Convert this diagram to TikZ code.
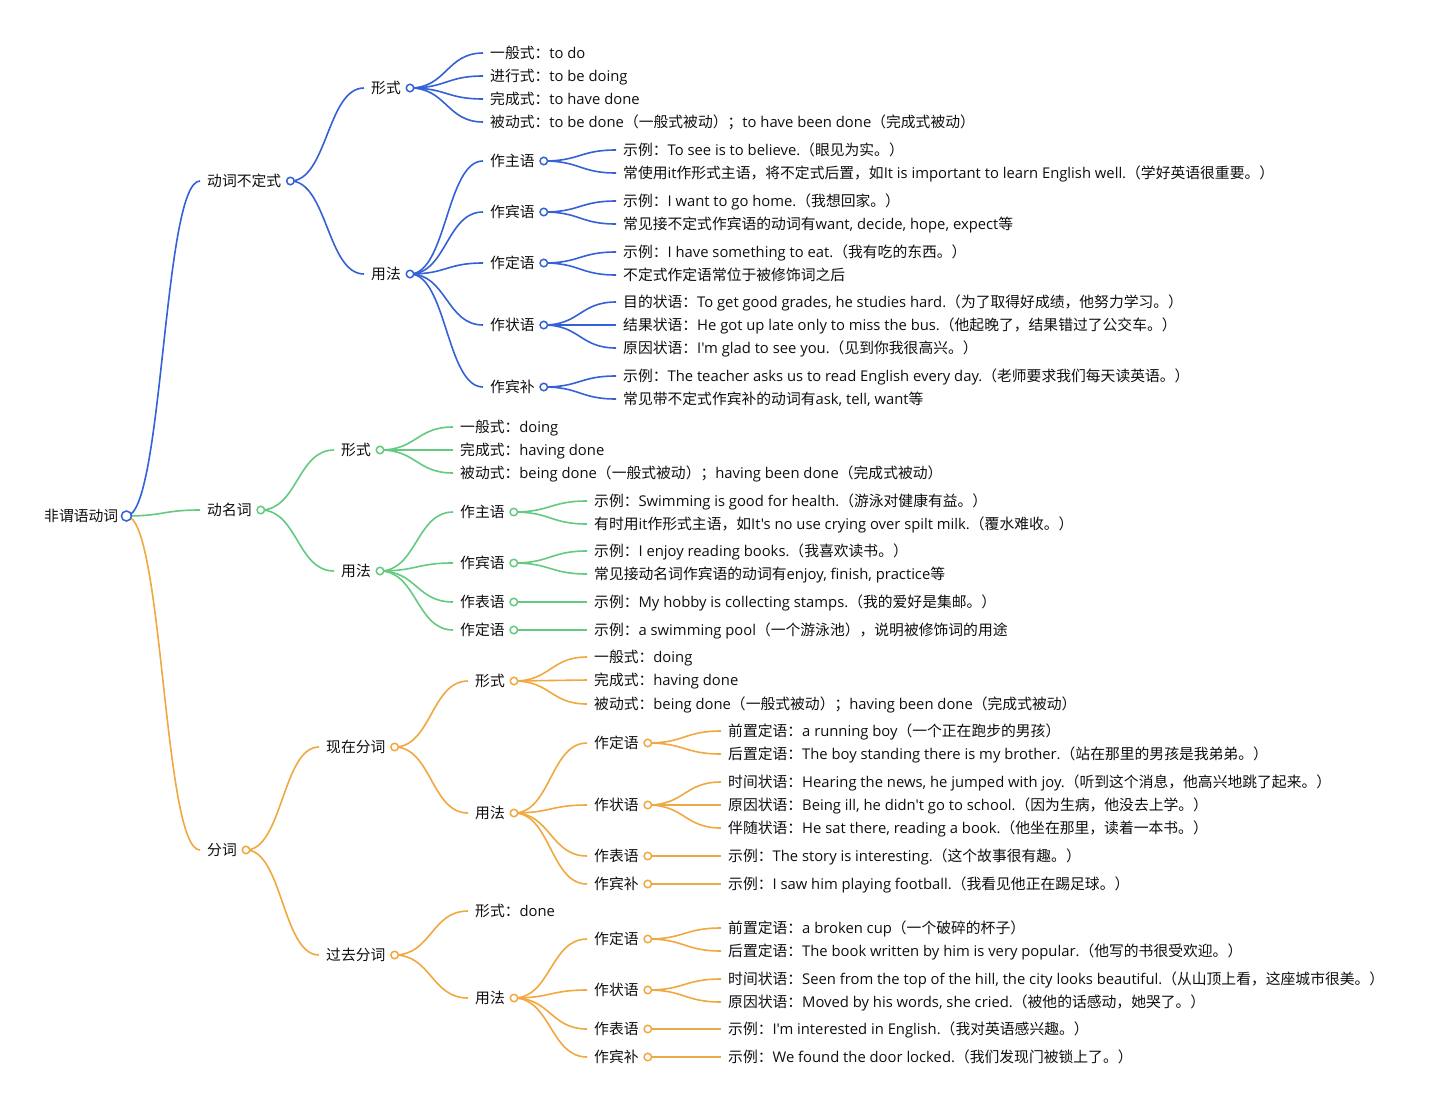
\documentclass[tikz,border=0pt]{standalone}
\usepackage{fontspec}
\setmainfont{Open Sans}
\newfontfamily\latf{Open Sans}
\newfontfamily\cjkf{Noto Sans CJK SC}
\usetikzlibrary{calc}
\pgfdeclarelayer{bg}
\pgfsetlayers{bg,main}
\XeTeXinterchartokenstate=1
\chardef\cjkcls=10
\newcount\cjkc
\def\setcls#1#2{\cjkc=#1\relax\loop\XeTeXcharclass\cjkc=\cjkcls\relax\ifnum\cjkc<#2\relax\advance\cjkc by 1\repeat}
\setcls{"3000}{"303F}
\setcls{"4E00}{"9FFF}
\setcls{"FF00}{"FFEF}
\XeTeXinterchartoks 0 \cjkcls = {\cjkf}
\XeTeXinterchartoks 4095 \cjkcls = {\cjkf}
\XeTeXinterchartoks \cjkcls 0 = {\latf}
\XeTeXinterchartoks \cjkcls 4095 = {\latf}
\definecolor{cb}{RGB}{52,98,214}
\definecolor{cg}{RGB}{100,202,128}
\definecolor{co}{RGB}{240,168,64}
\definecolor{tx}{RGB}{15,15,15}
\tikzset{
  txt/.style={anchor=west,inner sep=0pt,text height=13pt,text depth=2pt,text=tx},
  dot/.style={circle,draw,fill=white,line width=1.5pt,inner sep=0pt,minimum size=7.5pt},
  link/.style={line width=1.6pt}
}
\newcommand\nd[4]{\node[txt] (#1) at (#2,#3) {#4};\coordinate (#1-in) at (#2-7,#3);}
\newcommand\lk[3]{\begin{pgfonlayer}{bg}\draw[link,#1] let \p1=(#2), \p2=(#3) in (\p1) .. controls ({(\x1+\x2)/2},\y1) and ({(\x1+\x2)/2},\y2) .. (\p2);\end{pgfonlayer}}
\newcommand\leaf[6]{\nd{#1}{#2}{#3}{#4}\lk{#6}{#5-c.center}{#1-in}}
\newcommand\inn[6]{\nd{#1}{#2}{#3}{#4}\node[dot,draw=#6] (#1-c) at ([xshift=9pt]#1.east) {};\lk{#6}{#5-c.center}{#1-in}}
\begin{document}
\begin{tikzpicture}[x=1pt,y=-1pt,font=\fontsize{14.8}{17}\selectfont]
\begin{pgfonlayer}{bg}
\fill[white] (0,0) rectangle (1440,1098);
\end{pgfonlayer}
\useasboundingbox (0,0) rectangle (1440,1098);
% root
\node[txt] (r) at (44,516) {非谓语动词};
\node[dot,draw=cb,minimum size=10pt] (r-c) at ([xshift=8pt]r.east) {};
% ===== 动词不定式 =====
\inn{A}{207}{181}{动词不定式}{r}{cb}
\inn{Af}{371}{88}{形式}{A}{cb}
\leaf{Af1}{490}{53}{一般式：to do}{Af}{cb}
\leaf{Af2}{490}{76}{进行式：to be doing}{Af}{cb}
\leaf{Af3}{490}{99}{完成式：to have done}{Af}{cb}
\leaf{Af4}{490}{122}{被动式：to be done（一般式被动）；to have been done（完成式被动）}{Af}{cb}
\inn{Au}{371}{274}{用法}{A}{cb}
\inn{Au1}{490}{161}{作主语}{Au}{cb}
\leaf{Au1a}{623}{150}{示例：To see is to believe.（眼见为实。）}{Au1}{cb}
\leaf{Au1b}{623}{173}{常使用it作形式主语，将不定式后置，如It is important to learn English well.（学好英语很重要。）}{Au1}{cb}
\inn{Au2}{490}{212}{作宾语}{Au}{cb}
\leaf{Au2a}{623}{201}{示例：I want to go home.（我想回家。）}{Au2}{cb}
\leaf{Au2b}{623}{224}{常见接不定式作宾语的动词有want, decide, hope, expect等}{Au2}{cb}
\inn{Au3}{490}{263}{作定语}{Au}{cb}
\leaf{Au3a}{623}{252}{示例：I have something to eat.（我有吃的东西。）}{Au3}{cb}
\leaf{Au3b}{623}{275}{不定式作定语常位于被修饰词之后}{Au3}{cb}
\inn{Au4}{490}{325}{作状语}{Au}{cb}
\leaf{Au4a}{623}{302}{目的状语：To get good grades, he studies hard.（为了取得好成绩，他努力学习。）}{Au4}{cb}
\leaf{Au4b}{623}{325}{结果状语：He got up late only to miss the bus.（他起晚了，结果错过了公交车。）}{Au4}{cb}
\leaf{Au4c}{623}{348}{原因状语：I'm glad to see you.（见到你我很高兴。）}{Au4}{cb}
\inn{Au5}{490}{387}{作宾补}{Au}{cb}
\leaf{Au5a}{623}{376}{示例：The teacher asks us to read English every day.（老师要求我们每天读英语。）}{Au5}{cb}
\leaf{Au5b}{623}{399}{常见带不定式作宾补的动词有ask, tell, want等}{Au5}{cb}
% ===== 动名词 =====
\inn{B}{207}{510}{动名词}{r}{cg}
\inn{Bf}{341}{450}{形式}{B}{cg}
\leaf{Bf1}{460}{427}{一般式：doing}{Bf}{cg}
\leaf{Bf2}{460}{450}{完成式：having done}{Bf}{cg}
\leaf{Bf3}{460}{473}{被动式：being done（一般式被动）；having been done（完成式被动）}{Bf}{cg}
\inn{Bu}{341}{571}{用法}{B}{cg}
\inn{Bu1}{460}{512}{作主语}{Bu}{cg}
\leaf{Bu1a}{594}{501}{示例：Swimming is good for health.（游泳对健康有益。）}{Bu1}{cg}
\leaf{Bu1b}{594}{524}{有时用it作形式主语，如It's no use crying over spilt milk.（覆水难收。）}{Bu1}{cg}
\inn{Bu2}{460}{563}{作宾语}{Bu}{cg}
\leaf{Bu2a}{594}{551}{示例：I enjoy reading books.（我喜欢读书。）}{Bu2}{cg}
\leaf{Bu2b}{594}{574}{常见接动名词作宾语的动词有enjoy, finish, practice等}{Bu2}{cg}
\inn{Bu3}{460}{602}{作表语}{Bu}{cg}
\leaf{Bu3a}{594}{602}{示例：My hobby is collecting stamps.（我的爱好是集邮。）}{Bu3}{cg}
\inn{Bu4}{460}{630}{作定语}{Bu}{cg}
\leaf{Bu4a}{594}{630}{示例：a swimming pool（一个游泳池），说明被修饰词的用途}{Bu4}{cg}
% ===== 分词 =====
\inn{C}{207}{850}{分词}{r}{co}
\inn{P}{326}{747}{现在分词}{C}{co}
\inn{Pf}{475}{681}{形式}{P}{co}
\leaf{Pf1}{594}{657}{一般式：doing}{Pf}{co}
\leaf{Pf2}{594}{680}{完成式：having done}{Pf}{co}
\leaf{Pf3}{594}{704}{被动式：being done（一般式被动）；having been done（完成式被动）}{Pf}{co}
\inn{Pu}{475}{813}{用法}{P}{co}
\inn{Pu1}{594}{743}{作定语}{Pu}{co}
\leaf{Pu1a}{728}{731}{前置定语：a running boy（一个正在跑步的男孩）}{Pu1}{co}
\leaf{Pu1b}{728}{754}{后置定语：The boy standing there is my brother.（站在那里的男孩是我弟弟。）}{Pu1}{co}
\inn{Pu2}{594}{805}{作状语}{Pu}{co}
\leaf{Pu2a}{728}{782}{时间状语：Hearing the news, he jumped with joy.（听到这个消息，他高兴地跳了起来。）}{Pu2}{co}
\leaf{Pu2b}{728}{805}{原因状语：Being ill, he didn't go to school.（因为生病，他没去上学。）}{Pu2}{co}
\leaf{Pu2c}{728}{828}{伴随状语：He sat there, reading a book.（他坐在那里，读着一本书。）}{Pu2}{co}
\inn{Pu3}{594}{856}{作表语}{Pu}{co}
\leaf{Pu3a}{728}{856}{示例：The story is interesting.（这个故事很有趣。）}{Pu3}{co}
\inn{Pu4}{594}{884}{作宾补}{Pu}{co}
\leaf{Pu4a}{728}{884}{示例：I saw him playing football.（我看见他正在踢足球。）}{Pu4}{co}
\inn{Q}{326}{955}{过去分词}{C}{co}
\leaf{Qf}{475}{911}{形式：done}{Q}{co}
\inn{Qu}{475}{998}{用法}{Q}{co}
\inn{Qu1}{594}{939}{作定语}{Qu}{co}
\leaf{Qu1a}{728}{928}{前置定语：a broken cup（一个破碎的杯子）}{Qu1}{co}
\leaf{Qu1b}{728}{951}{后置定语：The book written by him is very popular.（他写的书很受欢迎。）}{Qu1}{co}
\inn{Qu2}{594}{990}{作状语}{Qu}{co}
\leaf{Qu2a}{728}{979}{时间状语：Seen from the top of the hill, the city looks beautiful.（从山顶上看，这座城市很美。）}{Qu2}{co}
\leaf{Qu2b}{728}{1002}{原因状语：Moved by his words, she cried.（被他的话感动，她哭了。）}{Qu2}{co}
\inn{Qu3}{594}{1029}{作表语}{Qu}{co}
\leaf{Qu3a}{728}{1029}{示例：I'm interested in English.（我对英语感兴趣。）}{Qu3}{co}
\inn{Qu4}{594}{1057}{作宾补}{Qu}{co}
\leaf{Qu4a}{728}{1057}{示例：We found the door locked.（我们发现门被锁上了。）}{Qu4}{co}
\end{tikzpicture}
\end{document}
